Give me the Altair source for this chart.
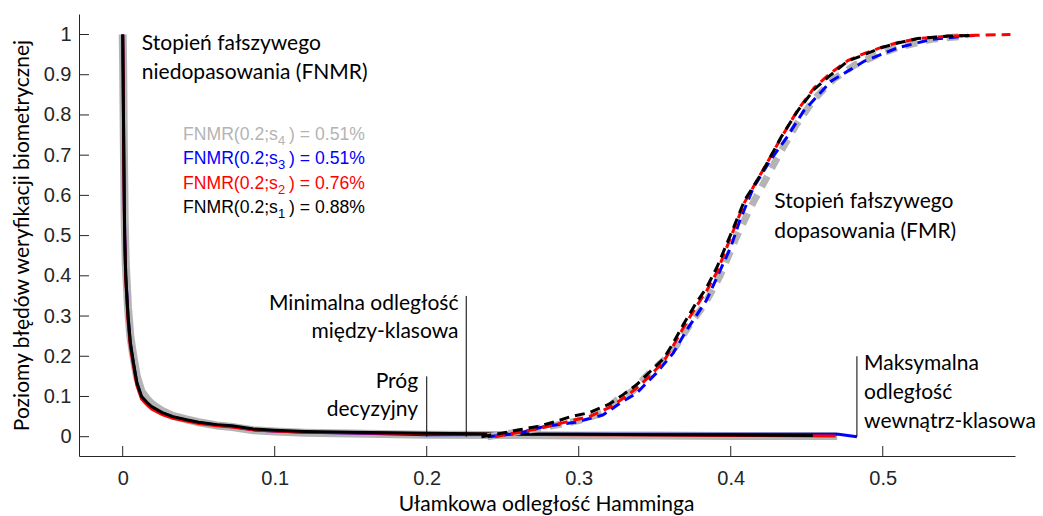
import altair as alt
import pandas as pd

# ---- axis ticks -------------------------------------------------------------
x_ticks = [0, 0.1, 0.2, 0.3, 0.4, 0.5]
y_ticks = [0, 0.1, 0.2, 0.3, 0.4, 0.5, 0.6, 0.7, 0.8, 0.9, 1]
x_domain = [-0.02875, 0.587]
y_domain = [-0.048, 1.051]

# ---- FNMR curves (solid) ----------------------------------------------------
fnmr_s1_x = [0.0, 0.0003, 0.0007, 0.0013, 0.002, 0.0035, 0.005, 0.007, 0.0093, 0.0124, 0.016, 0.019,
             0.026, 0.033, 0.042, 0.05, 0.062, 0.072, 0.086, 0.1, 0.12, 0.15, 0.2, 0.25, 0.3, 0.35, 0.4, 0.454]
fnmr_s1_y = [1.0, 0.9, 0.7, 0.5, 0.4, 0.3, 0.235, 0.185, 0.135, 0.1, 0.085, 0.075,
             0.06, 0.05, 0.042, 0.036, 0.03, 0.027, 0.019, 0.016, 0.013, 0.011, 0.0088, 0.007, 0.006, 0.005, 0.004, 0.003]

fnmr_s2_x = [0.0, 0.0003, 0.0007, 0.0013, 0.002, 0.0035, 0.005, 0.007, 0.0093, 0.0124, 0.016, 0.019,
             0.026, 0.033, 0.042, 0.05, 0.062, 0.072, 0.086, 0.1, 0.12, 0.15, 0.2, 0.25, 0.3, 0.35, 0.4, 0.469]
fnmr_s2_y = [1.0, 0.9, 0.69, 0.49, 0.39, 0.29, 0.225, 0.178, 0.128, 0.094, 0.079, 0.069,
             0.055, 0.046, 0.039, 0.033, 0.027, 0.024, 0.017, 0.014, 0.011, 0.0095, 0.0076, 0.006, 0.005, 0.004, 0.003, 0.002]

fnmr_s3_x = [0.0, 0.0003, 0.0007, 0.0013, 0.002, 0.0035, 0.005, 0.007, 0.0093, 0.0124, 0.016, 0.019,
             0.026, 0.033, 0.042, 0.05, 0.062, 0.072, 0.086, 0.1, 0.12, 0.15, 0.2, 0.25, 0.3, 0.35, 0.4,
             0.454, 0.471, 0.483]
fnmr_s3_y = [1.0, 0.9, 0.7, 0.5, 0.4, 0.3, 0.232, 0.183, 0.133, 0.099, 0.084, 0.074,
             0.059, 0.049, 0.041, 0.035, 0.029, 0.025, 0.017, 0.014, 0.011, 0.009, 0.0051, 0.0055, 0.0058, 0.006, 0.006,
             0.0062, 0.0062, 0.0]

fnmr_s4_x = [0.0, 0.0003, 0.0007, 0.0013, 0.002, 0.0035, 0.005, 0.007, 0.0093, 0.0124, 0.016, 0.019,
             0.026, 0.033, 0.042, 0.05, 0.062, 0.072, 0.086, 0.1, 0.12, 0.15, 0.2, 0.25, 0.3, 0.35, 0.4, 0.47]
fnmr_s4_y = [1.0, 0.92, 0.74, 0.54, 0.43, 0.32, 0.25, 0.2, 0.15, 0.112, 0.094, 0.082,
             0.064, 0.052, 0.043, 0.036, 0.028, 0.024, 0.016, 0.013, 0.01, 0.008, 0.0051, 0.004, 0.003, 0.003, 0.002, 0.002]

# ---- FMR curves (dashed) ----------------------------------------------------
fmr_s1_x = [0.236, 0.25, 0.262, 0.274, 0.285, 0.294, 0.307, 0.32, 0.329, 0.338, 0.347, 0.356, 0.362, 0.369,
            0.377, 0.384, 0.391, 0.402, 0.409, 0.42, 0.433, 0.444, 0.455, 0.466, 0.477, 0.488, 0.499, 0.51,
            0.523, 0.543, 0.56]
fmr_s1_y = [0.0, 0.009, 0.018, 0.026, 0.038, 0.049, 0.06, 0.081, 0.104, 0.129, 0.162, 0.195, 0.232, 0.28,
            0.331, 0.37, 0.422, 0.521, 0.587, 0.653, 0.744, 0.81, 0.864, 0.9, 0.934, 0.95, 0.967, 0.979,
            0.99, 0.996, 0.998]

fmr_s2_x = [0.245, 0.262, 0.274, 0.29, 0.307, 0.32, 0.329, 0.338, 0.347, 0.356, 0.362, 0.369, 0.377, 0.384,
            0.391, 0.402, 0.409, 0.42, 0.433, 0.444, 0.455, 0.466, 0.477, 0.488, 0.499, 0.51, 0.523, 0.543,
            0.56, 0.584]
fmr_s2_y = [0.0, 0.012, 0.02, 0.035, 0.05, 0.072, 0.095, 0.12, 0.152, 0.188, 0.225, 0.272, 0.322, 0.362,
            0.41, 0.515, 0.582, 0.655, 0.742, 0.812, 0.868, 0.905, 0.935, 0.953, 0.968, 0.98, 0.99, 0.996,
            0.998, 1.0]

fmr_s3_x = [0.24, 0.26, 0.277, 0.298, 0.316, 0.327, 0.338, 0.351, 0.362, 0.371, 0.384, 0.4, 0.406, 0.415,
            0.426, 0.437, 0.448, 0.466, 0.477, 0.488, 0.51, 0.532, 0.554, 0.562]
fmr_s3_y = [0.0, 0.008, 0.025, 0.036, 0.054, 0.083, 0.108, 0.158, 0.207, 0.265, 0.339, 0.471, 0.538, 0.62,
            0.687, 0.745, 0.81, 0.884, 0.909, 0.934, 0.967, 0.988, 0.996, 0.998]

fmr_s4_x = [0.24, 0.26, 0.28, 0.3, 0.315, 0.325, 0.336, 0.344, 0.356, 0.364, 0.373, 0.383, 0.393, 0.403, 0.413,
            0.423, 0.433, 0.443, 0.455, 0.468, 0.482, 0.497, 0.512, 0.532, 0.556]
fmr_s4_y = [0.0, 0.012, 0.025, 0.04, 0.058, 0.091, 0.115, 0.149, 0.19, 0.225, 0.278, 0.33, 0.4, 0.49, 0.57,
            0.64, 0.71, 0.775, 0.84, 0.89, 0.925, 0.95, 0.97, 0.988, 0.997]

# ---- FNMR values at threshold 0.2 (label pieces: prefix, subscript, suffix) --
legend_prefix = ["FNMR(0.2;s", "FNMR(0.2;s", "FNMR(0.2;s", "FNMR(0.2;s"]
legend_sub = ["4", "3", "2", "1"]
legend_suffix = [") = 0.51%", ") = 0.51%", ") = 0.76%", ") = 0.88%"]
legend_color = ["#b4b4b4", "#0000ff", "#ff0000", "#000000"]
legend_x = [0.0397, 0.0397, 0.0397, 0.0397]
legend_y = [0.7377, 0.6768, 0.6159, 0.555]

# ---- annotation markers (vertical lines) ------------------------------------
marker_x = [0.2, 0.226, 0.483]
marker_y0 = [0.0, 0.0, 0.0]
marker_y1 = [0.15, 0.35, 0.2]

# ---- annotation labels ------------------------------------------------------
left_labels = ["Stopień fałszywego", "niedopasowania (FNMR)",
               "Stopień fałszywego", "dopasowania (FMR)",
               "Maksymalna", "odległość", "wewnątrz-klasowa"]
left_x = [0.0126, 0.0126, 0.4287, 0.4287, 0.4877, 0.4877, 0.4877]
left_y = [0.9614, 0.8894, 0.5679, 0.4933, 0.1658, 0.093, 0.0209]

right_labels = ["Minimalna odległość", "między-klasowa", "Próg", "decyzyjny"]
right_x = [0.2209, 0.2209, 0.1943, 0.1943]
right_y = [0.315, 0.2442, 0.1211, 0.0515]

W, H = 936, 442
AXIS_COLOR = "#262626"
LEG_SIZE = 17.6

X = alt.X(
    "x:Q",
    scale=alt.Scale(domain=x_domain, nice=False, zero=False),
    axis=alt.Axis(values=x_ticks, format="~g", title="Ułamkowa odległość Hamminga",
                  ticks=False, tickSize=0, labelPadding=12, grid=False,
                  titleX=W / 2 - 1, titleY=48, titleAlign="center", titleBaseline="middle"),
)
Y = alt.Y(
    "y:Q",
    scale=alt.Scale(domain=y_domain, nice=False, zero=False),
    axis=alt.Axis(values=y_ticks, format="~g", title="Poziomy błędów weryfikacji biometrycznej",
                  ticks=False, tickSize=0, labelPadding=8, grid=False,
                  titleX=-57, titleY=H / 2, titleAngle=-90, titleAlign="center", titleBaseline="middle"),
)


def curve(xs, ys):
    return pd.DataFrame({"x": xs, "y": ys, "i": list(range(len(xs)))})


def solid(xs, ys, color, width):
    return alt.Chart(curve(xs, ys)).mark_line(color=color, strokeWidth=width).encode(
        x=X, y=Y, order="i:Q")


def dashed(xs, ys, color, width, dash):
    return alt.Chart(curve(xs, ys)).mark_line(color=color, strokeWidth=width, strokeDash=dash).encode(
        x=X, y=Y, order="i:Q")


# inward tick marks
yticks = alt.Chart(pd.DataFrame({"y": y_ticks})).mark_rule(color=AXIS_COLOR, strokeWidth=1).encode(
    y=Y, x=alt.value(0), x2=alt.value(10))
xticks = alt.Chart(pd.DataFrame({"x": x_ticks})).mark_rule(color=AXIS_COLOR, strokeWidth=1).encode(
    x=X, y=alt.value(H - 10), y2=alt.value(H))

markers = alt.Chart(pd.DataFrame({"x": marker_x, "y": marker_y0, "y2": marker_y1})).mark_rule(
    color="black", strokeWidth=1).encode(x=X, y=Y, y2="y2:Q")

left_text = alt.Chart(pd.DataFrame({"x": left_x, "y": left_y, "t": left_labels})).mark_text(
    align="left", baseline="alphabetic", font="Lato", fontSize=21, color="black").encode(
    x=X, y=Y, text="t:N")
right_text = alt.Chart(pd.DataFrame({"x": right_x, "y": right_y, "t": right_labels})).mark_text(
    align="right", baseline="alphabetic", font="Lato", fontSize=21, color="black").encode(
    x=X, y=Y, text="t:N")

legend_df = pd.DataFrame({"x": legend_x, "y": legend_y, "p": legend_prefix, "s": legend_sub,
                          "q": legend_suffix, "c": legend_color})
legend_base = alt.Chart(legend_df)
legend_prefix_text = legend_base.mark_text(
    align="left", baseline="alphabetic", font="Liberation Sans", fontSize=LEG_SIZE).encode(
    x=X, y=Y, text="p:N", color=alt.Color("c:N", scale=None))
legend_sub_text = legend_base.mark_text(
    align="left", baseline="alphabetic", font="Liberation Sans", fontSize=13, dx=95, dy=5).encode(
    x=X, y=Y, text="s:N", color=alt.Color("c:N", scale=None))
legend_suffix_text = legend_base.mark_text(
    align="left", baseline="alphabetic", font="Liberation Sans", fontSize=LEG_SIZE, dx=106).encode(
    x=X, y=Y, text="q:N", color=alt.Color("c:N", scale=None))

chart = alt.layer(
    solid(fnmr_s4_x, fnmr_s4_y, "#b4b4b4", 8),
    solid(fnmr_s3_x, fnmr_s3_y, "#0000ff", 3),
    solid(fnmr_s2_x, fnmr_s2_y, "#ff0000", 3),
    solid(fnmr_s1_x, fnmr_s1_y, "#000000", 3),
    dashed(fmr_s4_x, fmr_s4_y, "#b4b4b4", 7, [12, 9]),
    dashed(fmr_s3_x, fmr_s3_y, "#0000ff", 3, [10, 6]),
    dashed(fmr_s2_x, fmr_s2_y, "#ff0000", 3, [10, 6]),
    dashed(fmr_s1_x, fmr_s1_y, "#000000", 3, [10, 6]),
    markers,
    yticks,
    xticks,
    left_text,
    right_text,
    legend_prefix_text,
    legend_sub_text,
    legend_suffix_text,
).properties(
    width=W,
    height=H,
    padding={"left": 79, "top": 14, "right": 28, "bottom": 60},
    autosize=alt.AutoSizeParams(type="none"),
    background="white",
).configure_view(
    stroke=None
).configure_axis(
    domainColor=AXIS_COLOR,
    domainWidth=1,
    labelColor=AXIS_COLOR,
    labelFont="Liberation Sans",
    labelFontSize=20,
    titleFont="Lato",
    titleFontSize=21,
    titleFontWeight="normal",
    titleColor="black",
)

chart.save("out.html", embed_options={"renderer": "svg", "actions": False})
